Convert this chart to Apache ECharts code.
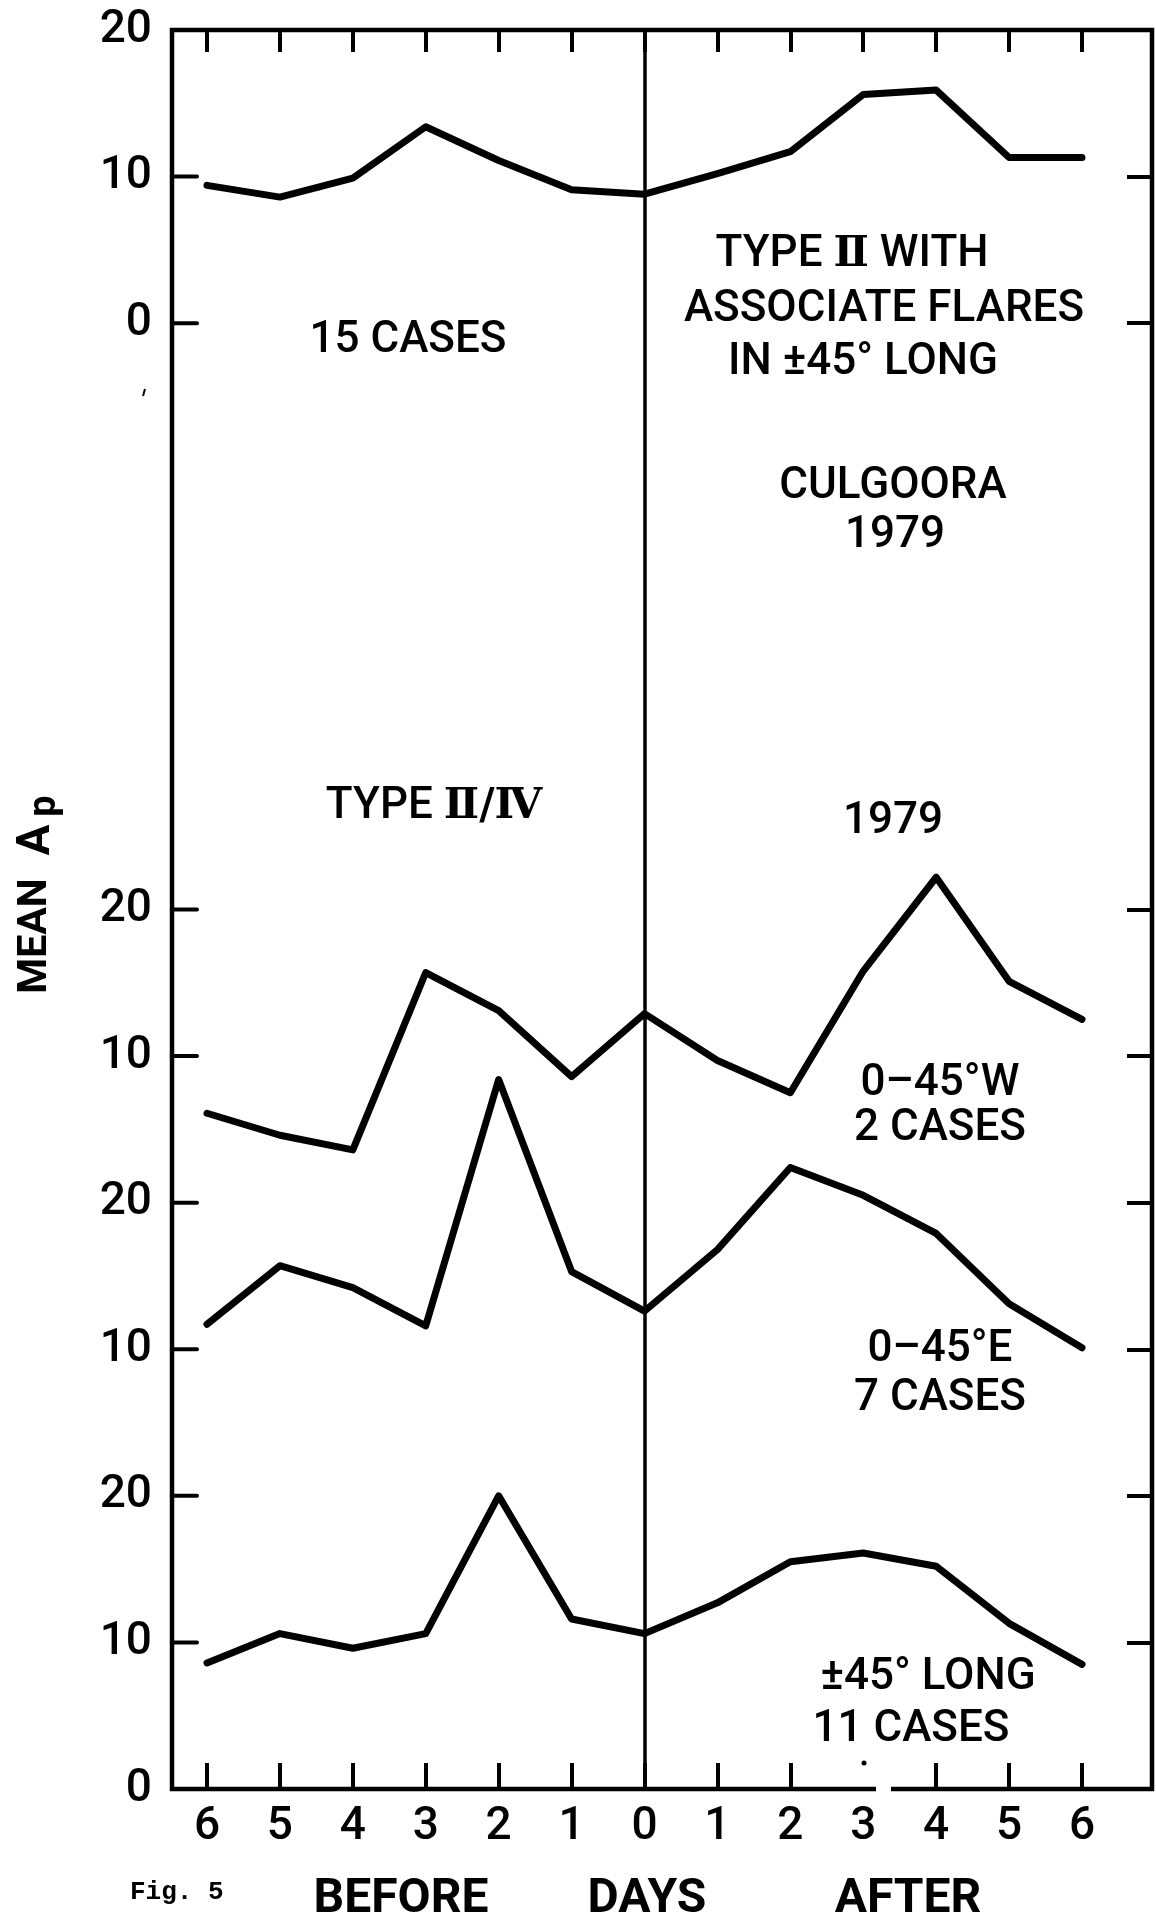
<!DOCTYPE html>
<html>
<head>
<meta charset="utf-8">
<title>Mean Ap around Type II bursts</title>
<script src="https://cdn.jsdelivr.net/npm/echarts@6/dist/echarts.min.js"></script>
<style>
  html, body { margin: 0; padding: 0; background: #fff; }
  #chart { width: 1156px; height: 1925px; }
</style>
</head>
<body>
<div id="chart"></div>
<script>
// Days relative to the burst (negative = before, positive = after)
const days = [-6, -5, -4, -3, -2, -1, 0, 1, 2, 3, 4, 5, 6];

// Mean Ap, Type II with associated flares in ±45° long (15 cases)
const typeIIFlares = [9.4, 8.6, 9.9, 13.4, 11.1, 9.1, 8.8, 10.2, 11.7, 15.6, 15.9, 11.3, 11.3];
// Mean Ap, Type II/IV 1979, 0-45°W (2 cases)
const west045 = [6.1, 4.6, 3.6, 15.7, 13.1, 8.6, 12.9, 9.7, 7.5, 15.8, 22.2, 15.1, 12.5];
// Mean Ap, Type II/IV 1979, 0-45°E (7 cases)
const east045 = [11.7, 15.7, 14.2, 11.6, 28.4, 15.3, 12.6, 16.8, 22.4, 20.5, 17.9, 13.1, 10.1];
// Mean Ap, Type II/IV 1979, ±45° long (11 cases)
const long45 = [8.6, 10.6, 9.6, 10.6, 20.0, 11.6, 10.6, 12.7, 15.5, 16.1, 15.2, 11.3, 8.5];

// Tick labels shown on each stacked panel's own scale
const longTicks = [0, 10, 20];
const eastTicks = [10, 20];
const westTicks = [10, 20];
const flareTicks = [0, 10, 20];

// Frame tick positions on the shared 0-120 stacking scale
const frameTicks = [10, 20, 30, 40, 50, 60, 100, 110];

const chart = echarts.init(document.getElementById('chart'), null, { renderer: 'canvas' });

const FONT = 'Roboto, "DejaVu Sans", "Noto Sans", sans-serif';
const ROMAN = '"DejaVu Serif", "Noto Sans CJK JP", serif';
const BLACK = '#000';
const PLOT = { left: 172, right: 4, top: 30, bottom: 136 };
const X_MIN = -6.48, X_MAX = 6.96;
const TICK_LEN = 25;

// All panels share one plot box; each panel gets its own y scale shifted so
// that the four curves stack without changing their units.
function panelAxis(min, max, ticks) {
  return {
    type: 'value',
    position: 'left',
    min: min,
    max: max,
    axisLine: { show: false, onZero: false },
    splitLine: { show: false },
    axisTick: { show: false },
    axisLabel: {
      show: true, margin: 20,
      customValues: ticks,
      color: BLACK, fontFamily: FONT, fontSize: 46, fontWeight: 500
    }
  };
}

function lineSeries(values, yAxisIndex, extra) {
  return Object.assign({
    type: 'line',
    xAxisIndex: 0,
    yAxisIndex: yAxisIndex,
    data: days.map((d, i) => [d, values[i]]),
    showSymbol: false,
    symbol: 'none',
    silent: true,
    animation: false,
    lineStyle: { color: BLACK, width: 7, cap: 'round', join: 'round' }
  }, extra || {});
}

function label(text, x, y, size, weight) {
  const fs = size || 44;
  const fw = weight || 500;
  return {
    type: 'text', x: x, y: y, silent: true, z: 10,
    style: {
      text: text, x: 0, y: 0, fill: BLACK,
      fontSize: fs, fontWeight: fw, fontFamily: FONT,
      align: 'center', verticalAlign: 'middle',
      textAlign: 'center', textVerticalAlign: 'middle',
      rich: {
        r: { fontSize: fs - 2, fontWeight: 700, fontFamily: ROMAN, fill: BLACK, color: BLACK }
      }
    }
  };
}

function vlabel(text, x, y, size) {
  return {
    type: 'text', x: x, y: y, rotation: Math.PI / 2, silent: true,
    style: {
      text: text, fill: BLACK, fontSize: size, fontWeight: 700, fontFamily: FONT,
      align: 'center', verticalAlign: 'middle',
      textAlign: 'center', textVerticalAlign: 'middle'
    }
  };
}

const option = {
  backgroundColor: '#fff',
  animation: false,
  grid: Object.assign({
    show: true, borderColor: BLACK, borderWidth: 4.5,
    backgroundColor: 'transparent',
    containLabel: false,
    outerBoundsMode: 'none'
  }, PLOT),
  xAxis: [
    {
      type: 'value', position: 'bottom', min: X_MIN, max: X_MAX,
      axisLine: { show: false, onZero: false }, splitLine: { show: false },
      axisTick: {
        show: true, inside: true, length: 26,
        lineStyle: { color: BLACK, width: 4 },
        customValues: days.filter(d => d !== 3)
      },
      axisLabel: {
        show: true, margin: 15, customValues: days,
        formatter: v => String(Math.abs(v)),
        color: BLACK, fontFamily: FONT, fontSize: 46, fontWeight: 500
      }
    },
    {
      type: 'value', position: 'top', min: X_MIN, max: X_MAX,
      axisLine: { show: false, onZero: false }, splitLine: { show: false },
      axisTick: {
        show: true, inside: true, length: 22,
        lineStyle: { color: BLACK, width: 4 },
        customValues: days
      },
      axisLabel: { show: false }
    }
  ],
  yAxis: [
    panelAxis(0, 120, longTicks),
    panelAxis(-20, 100, eastTicks),
    panelAxis(-40, 80, westTicks),
    panelAxis(-100, 20, flareTicks),
    {
      type: 'value', position: 'right', min: 0, max: 120,
      axisLine: { show: false, onZero: false }, splitLine: { show: false },
      axisTick: {
        show: true, inside: true, length: TICK_LEN,
        lineStyle: { color: BLACK, width: 4 },
        customValues: frameTicks
      },
      axisLabel: { show: false }
    }
  ],
  series: [
    lineSeries(long45, 0, {
      markLine: {
        silent: true, symbol: 'none', animation: false,
        label: { show: false },
        lineStyle: { color: BLACK, width: 3.5, type: 'solid' },
        data: [{ xAxis: 0 }]
      }
    }),
    lineSeries(east045, 1),
    lineSeries(west045, 2),
    lineSeries(typeIIFlares, 3)
  ],
  graphic: [
    label('15 CASES', 408, 341),
    label('TYPE {r|\u2161} WITH', 852, 255),
    label('ASSOCIATE FLARES', 884, 310),
    label('IN \u00b145\u00b0 LONG', 863, 363),
    label('CULGOORA', 893, 487),
    label('1979', 895, 536),
    label('TYPE {r|\u2161/\u2163}', 434, 807),
    label('1979', 893, 822),
    label('0\u201345\u00b0W', 940, 1084),
    label('2 CASES', 940, 1129),
    label('0\u201345\u00b0E', 940, 1350),
    label('7 CASES', 940, 1399),
    label('\u00b145\u00b0 LONG', 928, 1678),
    label('11 CASES', 911, 1730),
    label('BEFORE', 401, 1900, 48, 700),
    label('DAYS', 647, 1900, 48, 700),
    label('AFTER', 908, 1900, 48, 700),
    // y-axis title, read bottom to top, with subscript p
    vlabel('MEAN', 36, 936, 41),
    vlabel('A', 37, 840, 46),
    vlabel('p', 45, 806, 38),
    // figure number
    {
      type: 'text', x: 130, y: 1892, silent: true,
      style: {
        text: 'Fig. 5', fill: BLACK, fontSize: 26, fontWeight: 700,
        fontFamily: '"Liberation Mono", "DejaVu Sans Mono", monospace',
        align: 'left', verticalAlign: 'middle',
        textAlign: 'left', textVerticalAlign: 'middle'
      }
    },
    // break in the bottom frame just after day 3, with a small dot above the tick spot
    {
      type: 'rect', silent: true, z: 20,
      shape: { x: 876, y: 1785, width: 15, height: 10 },
      style: { fill: '#fff' }
    },
    {
      type: 'circle', silent: true, z: 20,
      shape: { cx: 864, cy: 1763, r: 2.5 },
      style: { fill: BLACK }
    },
    // small stray mark left of the frame
    {
      type: 'line', silent: true, z: 20,
      shape: { x1: 145, y1: 389, x2: 143, y2: 396 },
      style: { stroke: BLACK, lineWidth: 2 }
    }
  ]
};

chart.setOption(option);

// Inward ticks along the left edge of the frame, placed through the
// shared stacking scale once the grid has been laid out.
const leftTicks = frameTicks.map(v => {
  const p = chart.convertToPixel({ xAxisIndex: 0, yAxisIndex: 0 }, [X_MIN, v]);
  return {
    type: 'line', silent: true, z: 100,
    shape: { x1: p[0], y1: p[1], x2: p[0] + TICK_LEN, y2: p[1] },
    style: { stroke: BLACK, lineWidth: 4, lineCap: 'round' }
  };
});
option.graphic = option.graphic.concat(leftTicks);
chart.setOption(option, true);
</script>
</body>
</html>
